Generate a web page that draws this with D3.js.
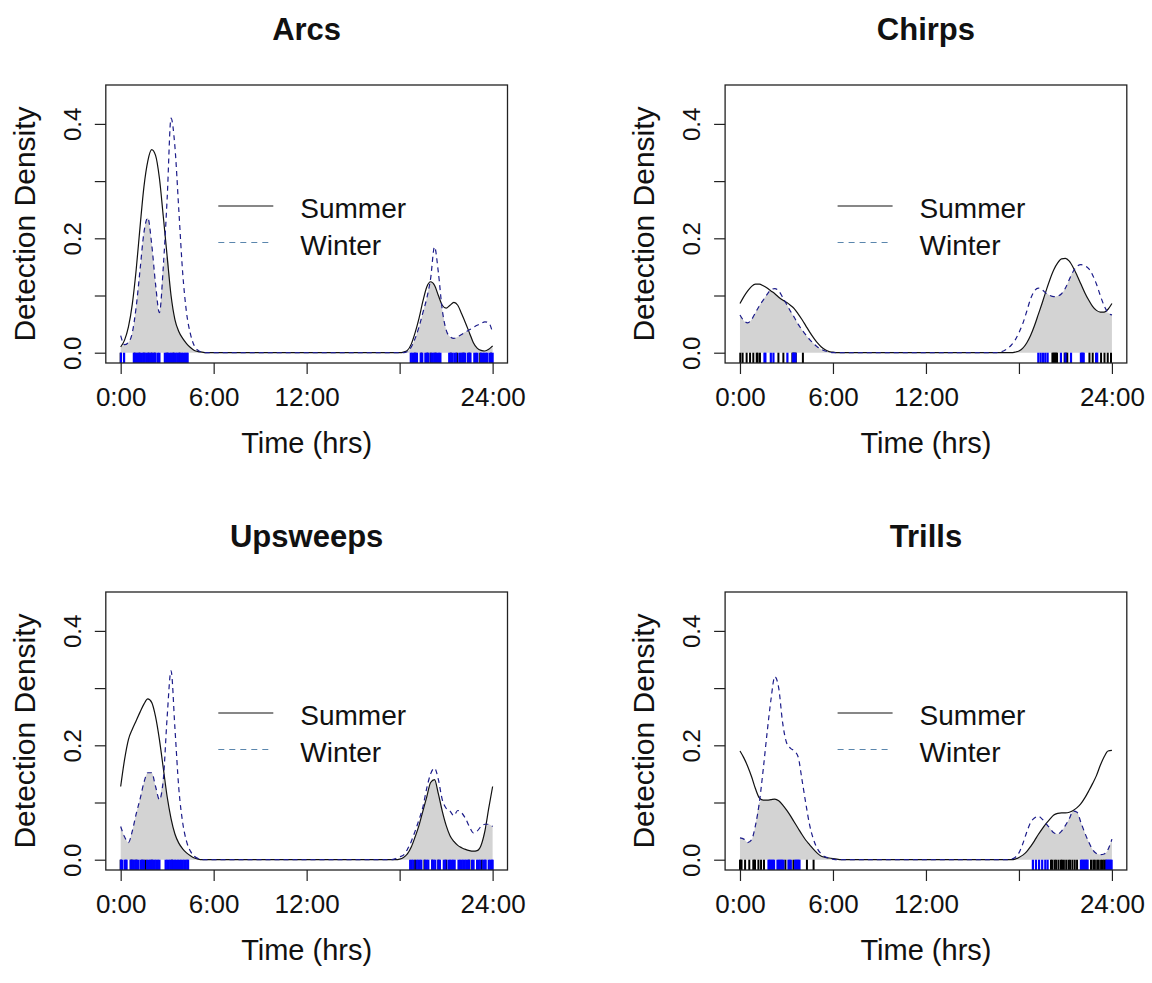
<!DOCTYPE html>
<html><head><meta charset="utf-8">
<script src="https://cdn.jsdelivr.net/npm/d3@7"></script>
<style>body{margin:0;background:#fff} svg{display:block} text{font-family:"Liberation Sans",Arial,sans-serif;fill:#111}</style>
</head><body>
<svg id="c" width="1152" height="983"></svg>
<script>
// ---------- data ----------
const panelTitles = ["Arcs", "Chirps", "Upsweeps", "Trills"];
const seriesNames = ["Summer", "Winter"];
// sample hours of the density curves (left block and right block; zero in between)
const hoursLeft  = d3.range(0, 6.5001, 0.25);   // 27 samples
const hoursRight = d3.range(16.5, 24.0001, 0.25); // 31 samples

// Arcs
const arcsSummerL = [0.01,0.022,0.045,0.085,0.145,0.22,0.29,0.335,0.355,0.345,0.305,0.238,0.168,0.10,0.058,0.037,0.025,0.016,0.009,0.004,0.002,0.001,0,0,0,0,0];
const arcsWinterL = [0.03,0.014,0.018,0.035,0.08,0.145,0.21,0.236,0.19,0.12,0.07,0.15,0.27,0.41,0.36,0.25,0.14,0.07,0.033,0.012,0.004,0.001,0,0,0,0,0];
const arcsSummerR = [0,0,0,0,0,0,0,0.001,0.004,0.015,0.035,0.06,0.09,0.115,0.124,0.118,0.10,0.083,0.078,0.083,0.088,0.083,0.068,0.052,0.035,0.018,0.008,0.004,0.003,0.006,0.012];
const arcsWinterR = [0,0,0,0,0,0,0,0,0.002,0.01,0.025,0.045,0.07,0.095,0.13,0.185,0.14,0.075,0.04,0.028,0.025,0.028,0.032,0.036,0.04,0.044,0.048,0.051,0.054,0.052,0.035];
// Chirps
const chirpsSummerL = [0.086,0.098,0.108,0.116,0.12,0.12,0.117,0.113,0.108,0.103,0.097,0.092,0.088,0.083,0.077,0.068,0.058,0.047,0.036,0.026,0.017,0.01,0.005,0.002,0.001,0,0];
const chirpsWinterL = [0.066,0.056,0.052,0.058,0.07,0.082,0.092,0.102,0.11,0.112,0.108,0.097,0.085,0.073,0.062,0.05,0.04,0.031,0.023,0.016,0.01,0.006,0.003,0.001,0,0,0];
const chirpsSummerR = [0,0,0,0,0,0.001,0.003,0.008,0.017,0.03,0.047,0.067,0.087,0.108,0.128,0.145,0.157,0.164,0.165,0.16,0.149,0.135,0.12,0.105,0.092,0.081,0.074,0.071,0.071,0.076,0.086];
const chirpsWinterR = [0,0.001,0.003,0.007,0.013,0.022,0.035,0.051,0.072,0.094,0.108,0.113,0.11,0.104,0.10,0.098,0.099,0.103,0.113,0.128,0.142,0.151,0.154,0.152,0.147,0.136,0.12,0.10,0.082,0.07,0.066];
// Upsweeps
const upSummerL = [0.128,0.175,0.21,0.228,0.243,0.258,0.272,0.281,0.275,0.25,0.21,0.16,0.11,0.072,0.045,0.029,0.019,0.012,0.007,0.003,0.001,0,0,0,0,0,0];
const upWinterL = [0.058,0.04,0.03,0.05,0.08,0.106,0.135,0.152,0.152,0.128,0.105,0.14,0.25,0.33,0.23,0.125,0.065,0.032,0.015,0.006,0.002,0,0,0,0,0,0];
const upSummerR = [0,0,0,0,0,0,0.001,0.004,0.01,0.022,0.04,0.06,0.085,0.11,0.135,0.14,0.115,0.085,0.06,0.042,0.032,0.025,0.021,0.018,0.016,0.015,0.016,0.025,0.05,0.09,0.128];
const upWinterR = [0,0,0,0,0,0.002,0.005,0.008,0.018,0.032,0.05,0.07,0.092,0.125,0.15,0.16,0.14,0.105,0.09,0.085,0.077,0.086,0.082,0.072,0.058,0.047,0.05,0.058,0.062,0.062,0.058];
// Trills
const trSummerL = [0.19,0.178,0.163,0.145,0.124,0.108,0.104,0.104,0.105,0.106,0.103,0.096,0.087,0.077,0.066,0.055,0.044,0.034,0.026,0.018,0.011,0.006,0.004,0.003,0.002,0.001,0];
const trWinterL = [0.038,0.036,0.03,0.035,0.06,0.10,0.158,0.222,0.28,0.32,0.30,0.24,0.205,0.195,0.19,0.18,0.14,0.098,0.06,0.035,0.019,0.01,0.005,0.003,0.001,0,0];
const trSummerR = [0,0,0,0,0,0.001,0.004,0.008,0.014,0.023,0.033,0.044,0.054,0.063,0.071,0.078,0.081,0.082,0.082,0.083,0.086,0.091,0.098,0.108,0.12,0.133,0.147,0.165,0.18,0.19,0.191];
const trWinterR = [0,0,0,0,0.001,0.004,0.012,0.028,0.048,0.065,0.073,0.076,0.071,0.063,0.055,0.047,0.045,0.05,0.06,0.072,0.085,0.083,0.065,0.047,0.031,0.018,0.011,0.009,0.01,0.018,0.036];

// rug: detection times (hours)
const arcsSummerRug = [0.0,0.9,1.2,1.5,1.8,2.0,2.2,3.0,3.4,3.8,19.0,19.4,19.8,20.0,20.3,21.3,21.7,22.1,22.5,23.2,23.9];
const arcsWinterRug = [0.02,0.22,0.85,0.95,1.05,1.15,1.25,1.35,1.45,1.55,1.65,1.75,1.85,1.95,2.05,2.15,2.25,2.4,2.5,2.85,2.95,3.05,3.15,3.25,3.35,3.45,3.55,3.65,3.75,3.85,3.95,4.05,4.15,4.25,4.32,
  18.72,18.82,18.92,19.02,19.12,19.36,19.46,19.66,19.76,19.86,20.04,20.14,20.24,20.34,20.44,20.54,20.63,21.2,21.3,21.42,21.55,21.65,21.85,21.95,22.05,22.15,22.22,22.4,22.5,22.57,22.82,22.92,23.02,23.25,23.35,23.45,23.55,23.64,23.8,23.9,24.0];
const chirpsSummerRug = [0.02,0.17,0.43,0.65,0.86,1.08,1.14,1.29,2.48,2.8,3.38,3.45,3.52,3.6,4.06,20.16,20.22,20.28,20.34,20.4,20.46,20.95,21.05,21.12,22.55,22.76,23.3,23.52,23.73,23.94];
const chirpsWinterRug = [1.58,1.64,1.99,2.16,3.06,3.42,3.5,3.58,19.25,19.4,19.55,19.7,19.85,20.71,21.0,21.36,22.0,22.06,22.12,22.18,22.98,23.05];
const upSummerRug = [0.0,0.65,0.75,1.0,1.4,1.6,2.0,3.3,19.0,19.6,20.1,20.5,21.0,22.5,23.3];
const upWinterRug = [0.02,0.08,0.25,0.33,0.38,0.65,0.75,0.85,0.95,1.05,1.15,1.3,1.4,1.5,1.7,1.8,1.9,2.0,2.1,2.2,2.3,2.4,2.5,2.9,3.0,3.1,3.2,3.3,3.4,3.5,3.6,3.7,3.8,3.9,4.0,4.1,4.2,4.3,4.35,
  18.68,18.78,18.88,19.1,19.2,19.3,19.4,19.65,19.75,19.85,20.1,20.2,20.3,20.5,20.6,20.85,20.95,21.15,21.25,21.35,21.45,21.55,21.8,21.9,22.0,22.1,22.2,22.3,22.4,22.47,22.67,22.77,23.0,23.1,23.2,23.4,23.5,23.55,23.75,23.85,23.95,24.0];
const trSummerRug = [0.0,0.05,0.1,0.33,0.6,0.86,0.92,0.97,1.19,1.36,1.55,2.93,3.45,4.32,4.75,20.07,20.15,20.3,20.4,20.55,20.7,20.78,20.9,21.05,21.2,21.3,21.45,21.6,21.75,22.65,22.8,22.9,23.05,23.15,23.3,23.4,23.5,23.6];
const trWinterRug = [1.84,1.9,1.97,2.05,2.12,2.2,2.42,2.5,2.57,2.65,2.72,2.8,3.13,3.2,3.28,3.56,3.63,3.7,3.77,3.84,18.9,19.1,19.3,19.5,19.7,19.85,22.0,22.07,22.15,22.22,22.3,22.37,22.43,23.65,23.72,23.78,23.85,23.92,23.98];

const xTicks = [0, 6, 12, 18, 24];
const xTickLabels = ["0:00", "6:00", "12:00", "", "24:00"];
const yTicks = [0, 0.1, 0.2, 0.3, 0.4];
const yTickLabels = ["0.0", "", "0.2", "", "0.4"];
const xTitle = "Time (hrs)";
const yTitle = "Detection Density";

// ---------- assemble ----------
const hours = hoursLeft.concat(hoursRight);
const panels = [
  {title: panelTitles[0], s: arcsSummerL.concat(arcsSummerR), w: arcsWinterL.concat(arcsWinterR), rs: arcsSummerRug, rw: arcsWinterRug},
  {title: panelTitles[1], s: chirpsSummerL.concat(chirpsSummerR), w: chirpsWinterL.concat(chirpsWinterR), rs: chirpsSummerRug, rw: chirpsWinterRug},
  {title: panelTitles[2], s: upSummerL.concat(upSummerR), w: upWinterL.concat(upWinterR), rs: upSummerRug, rw: upWinterRug},
  {title: panelTitles[3], s: trSummerL.concat(trSummerR), w: trWinterL.concat(trWinterR), rs: trSummerRug, rw: trWinterRug}
];
const boxLefts = [105.8, 725.1], boxTops = [85, 592];
const W = 401.7, H = 278;
const svg = d3.select("#c");
const FONT = '"Liberation Sans",Arial,sans-serif';

panels.forEach((p, i) => {
  const L = boxLefts[i % 2], T = boxTops[Math.floor(i / 2)];
  const x = d3.scaleLinear().domain([-0.96, 24.96]).range([L, L + W]);
  const y = d3.scaleLinear().domain([-0.018, 0.468]).range([T + H, T]);
  const g = svg.append("g");
  const pts = hours.map((h, k) => ({h, s: p.s[k], w: p.w[k], m: Math.min(p.s[k], p.w[k])}));

  // overlap shading
  g.append("path").datum(pts)
    .attr("d", d3.area().x(d => x(d.h)).y0(y(0)).y1(d => y(d.m)).curve(d3.curveMonotoneX))
    .attr("fill", "#d3d3d3").attr("stroke", "none");
  // summer
  g.append("path").datum(pts)
    .attr("d", d3.line().x(d => x(d.h)).y(d => y(d.s)).curve(d3.curveMonotoneX))
    .attr("fill", "none").attr("stroke", "#111").attr("stroke-width", 1.2);
  // winter
  g.append("path").datum(pts)
    .attr("d", d3.line().x(d => x(d.h)).y(d => y(d.w)).curve(d3.curveMonotoneX))
    .attr("fill", "none").attr("stroke", "#1c1c8a").attr("stroke-width", 1.2).attr("stroke-dasharray", "5,4");

  // rugs
  const rugTop = y(0), rugBot = T + H;
  g.append("g").selectAll("line").data(p.rs).join("line")
    .attr("x1", d => x(d)).attr("x2", d => x(d)).attr("y1", rugTop).attr("y2", rugBot)
    .attr("stroke", "#000").attr("stroke-width", 2);
  g.append("g").selectAll("line").data(p.rw).join("line")
    .attr("x1", d => x(d)).attr("x2", d => x(d)).attr("y1", rugTop).attr("y2", rugBot)
    .attr("stroke", "#0000ff").attr("stroke-width", 2.2);

  // box
  g.append("rect").attr("x", L).attr("y", T).attr("width", W).attr("height", H)
    .attr("fill", "none").attr("stroke", "#222").attr("stroke-width", 1.3);

  // x axis
  const xa = d3.axisBottom(x).tickValues(xTicks).tickSize(11).tickSizeOuter(0)
    .tickFormat((d, k) => xTickLabels[k]);
  const gx = g.append("g").attr("transform", `translate(0,${T + H})`).call(xa);
  gx.select(".domain").remove();
  gx.selectAll(".tick line").attr("stroke", "#222").attr("stroke-width", 1.2);
  gx.selectAll(".tick text").attr("font-family", FONT).attr("font-size", 26).attr("fill", "#111")
    .attr("dy", null).attr("y", 43);

  // y axis
  const ya = d3.axisLeft(y).tickValues(yTicks).tickSize(11).tickSizeOuter(0)
    .tickFormat((d, k) => yTickLabels[k]);
  const gy = g.append("g").attr("transform", `translate(${L},0)`).call(ya);
  gy.select(".domain").remove();
  gy.selectAll(".tick line").attr("stroke", "#222").attr("stroke-width", 1.2);
  gy.selectAll(".tick text").attr("font-family", FONT).attr("font-size", 24).attr("fill", "#111")
    .attr("x", null).attr("dy", null).attr("text-anchor", "middle")
    .attr("transform", "translate(-25,0) rotate(-90)");

  // titles
  g.append("text").attr("x", L + W / 2).attr("y", T - 45.5).attr("text-anchor", "middle")
    .attr("font-size", 31).attr("font-weight", "bold").text(p.title);
  g.append("text").attr("x", L + W / 2).attr("y", T + H + 90).attr("text-anchor", "middle")
    .attr("font-size", 29).text(xTitle);
  g.append("text").attr("transform", `translate(${L - 71},${T + H / 2}) rotate(-90)`)
    .attr("text-anchor", "middle").attr("font-size", 30).text(yTitle);

  // legend
  const lx1 = L + 112.5, lx2 = L + 167.5, tx = L + 194.5;
  g.append("line").attr("x1", lx1).attr("x2", lx2).attr("y1", T + 121).attr("y2", T + 121)
    .attr("stroke", "#111").attr("stroke-width", 1.2);
  g.append("text").attr("x", tx).attr("y", T + 133).attr("font-size", 28).text(seriesNames[0]);
  g.append("line").attr("x1", lx1).attr("x2", lx2).attr("y1", T + 157.5).attr("y2", T + 157.5)
    .attr("stroke", "#5a86ad").attr("stroke-width", 1.2).attr("stroke-dasharray", "6,5");
  g.append("text").attr("x", tx).attr("y", T + 169.5).attr("font-size", 28).text(seriesNames[1]);
});
</script>
</body></html>
